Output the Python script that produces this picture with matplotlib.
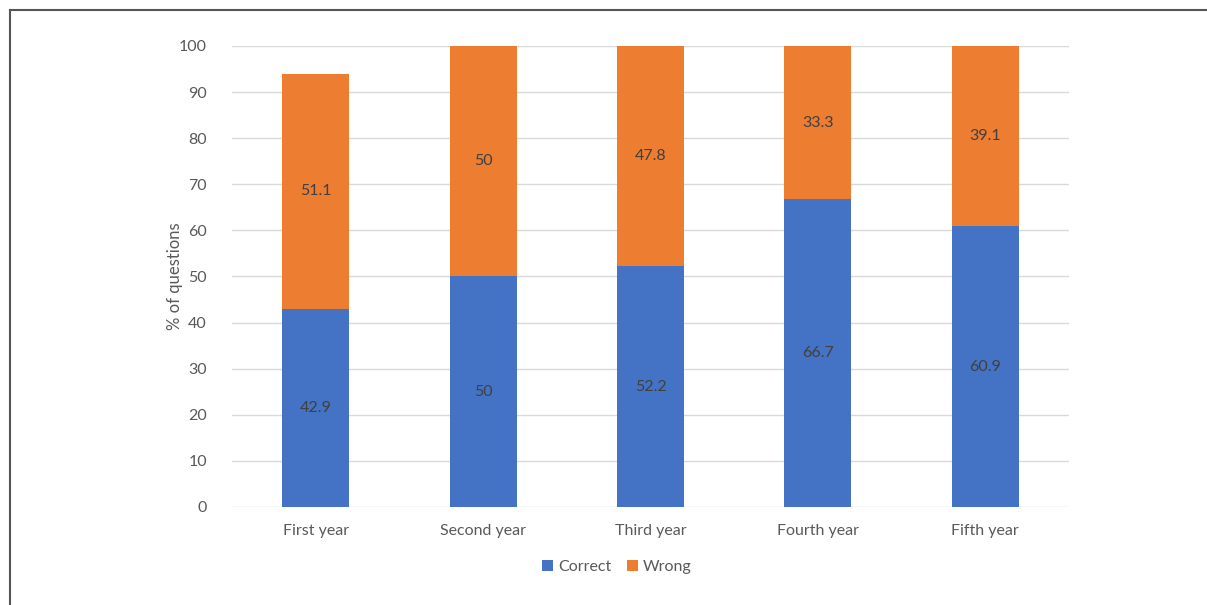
import numpy as np
import matplotlib
matplotlib.use("Agg")
from matplotlib import pyplot as plt

# dados
anos = ["First year", "Second year", "Third year", "Fourth year", "Fifth year"]
correct = [42.9, 50, 52.2, 66.7, 60.9]
wrong = [51.1, 50, 47.8, 33.3, 39.1]

plt.rcParams['font.family'] = ['Lato', 'DejaVu Sans']

fig = plt.figure(figsize=(12.07, 6.05), dpi=100)
ax = fig.add_axes([0.1922, 0.162, 0.6935, 0.762])

x = np.arange(len(anos))
azul = "#4472c4"
laranja = "#ed7d31"
ax.bar(x, correct, width=0.4, color=azul, label="Correct", zorder=3)
ax.bar(x, wrong, width=0.4, bottom=correct, color=laranja, label="Wrong", zorder=3)

for i in range(len(anos)):
    ax.text(x[i], correct[i] / 2, f"{correct[i]:g}", ha="center", va="center",
            fontsize=11.5, color="#404040", zorder=4)
    ax.text(x[i], correct[i] + wrong[i] / 2, f"{wrong[i]:g}", ha="center", va="center",
            fontsize=11.5, color="#404040", zorder=4)

ax.set_xlim(-0.5, len(anos) - 0.5)
ax.set_ylim(0, 100)
ax.set_yticks(range(0, 101, 10))
ax.set_xticks(x)
ax.set_xticklabels(anos)
ax.tick_params(axis="both", length=0, labelsize=11.5, colors="#595959")
ax.tick_params(axis="x", pad=12)
ax.tick_params(axis="y", pad=18)
ax.grid(axis="y", color="#d9d9d9", linewidth=1, zorder=0)
for s in ax.spines.values():
    s.set_visible(False)
ax.set_ylabel("% of questions", fontsize=12, color="#595959")
ax.yaxis.set_label_coords(-0.058, 0.5)

# legenda centrada na area do grafico inteiro, nao no eixo
fig.legend(loc="center", bbox_to_anchor=(0.511, 1 - 567 / 605), ncol=2, frameon=False,
           fontsize=11.5, labelcolor="#595959", handlelength=0.7, handleheight=0.7,
           handletextpad=0.3, columnspacing=1.0)

# moldura (so topo e esquerda)
fig.add_artist(plt.Line2D([10 / 1207, 10 / 1207], [0, 1 - 10 / 605], color="#555555", linewidth=1.5))
fig.add_artist(plt.Line2D([10 / 1207, 1], [1 - 10 / 605, 1 - 10 / 605], color="#555555", linewidth=1.5))

fig.savefig("out.png", dpi=100)
